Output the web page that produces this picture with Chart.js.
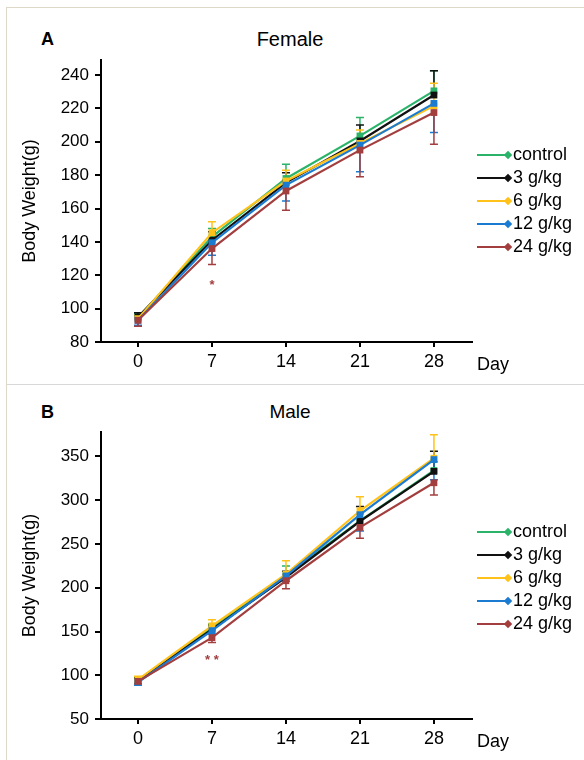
<!DOCTYPE html>
<html>
<head>
<meta charset="utf-8">
<script src="https://cdn.jsdelivr.net/npm/chart.js@4.4.1/dist/chart.umd.min.js"></script>
<style>
  body { margin: 0; background: #fff; font-family: "Liberation Sans", Arial, sans-serif; color: #000; }
  #page { position: relative; width: 584px; height: 760px; overflow: hidden; }
  .frame { position: absolute; left: 6px; top: 7px; right: -2px; bottom: -2px; border-left: 1px solid #ddd8c8; border-top: 1px solid #ddd8c8; }
  .sep { position: absolute; left: 7px; right: 0; top: 384px; border-top: 1px solid #d8d8d8; }
  .panel { position: absolute; left: 0; width: 584px; }
  .txt { position: absolute; line-height: 1; white-space: nowrap; }
  .letter { font-weight: bold; font-size: 18px; }
  .legend { position: absolute; left: 477px; font-size: 18px; }
  .legend .row { height: 23px; line-height: 23px; white-space: nowrap; }
  .legend .key { display: inline-block; position: relative; width: 36px; height: 23px; vertical-align: top; }
  .legend .key i { position: absolute; left: 0; width: 31px; top: 11px; height: 2px; }
  .legend .key b { position: absolute; left: 28px; top: 9px; width: 6px; height: 6px; transform: rotate(45deg); }
</style>
</head>
<body>
<div id="page">
  <div class="frame"></div>
  <div class="sep"></div>

  <div class="txt letter" style="left:41px; top:30px;">A</div>
  <div class="txt" style="left:290px; top:29px; font-size:20px; transform:translateX(-50%);">Female</div>
  <div class="panel" style="top:0; height:384px;"><canvas id="femaleChart"></canvas></div>
  <div class="legend" id="legendA" style="top:143px;"></div>

  <div class="txt letter" style="left:41px; top:403px;">B</div>
  <div class="txt" style="left:290px; top:402px; font-size:19px; transform:translateX(-50%);">Male</div>
  <div class="panel" style="top:384px; height:376px;"><canvas id="maleChart"></canvas></div>
  <div class="legend" id="legendB" style="top:520px;"></div>
</div>

<script>
// 天数和组别
const days = [0, 7, 14, 21, 28];
const groups = ['control', '3 g/kg', '6 g/kg', '12 g/kg', '24 g/kg'];
const colors = ['#2bb36a', '#111111', '#ffc21a', '#1b7bd0', '#a23f3e'];
const errDir = [1, 1, 1, -1, -1]; // 误差线方向: 1 向上, -1 向下

// Female 体重 (g)
const femaleControl = [94.5, 143, 178, 203.5, 230.5];
const female3 = [95, 141, 175.5, 200.5, 228];
const female6 = [94, 145.5, 176.5, 199, 221.5];
const female12 = [93, 139.5, 174, 198, 223];
const female24 = [93, 136, 170.5, 195, 217.5];
const femaleSdControl = [2.5, 5, 8.5, 11, 12];
const femaleSd3 = [2.5, 5, 6, 9.5, 14.5];
const femaleSd6 = [2, 6.5, 6.5, 8, 13.5];
const femaleSd12 = [3, 7.5, 9.5, 16, 17.5];
const femaleSd24 = [3.5, 9.5, 11.5, 16, 19];

// Male 体重 (g)
const maleControl = [94, 154.5, 214.5, 276.5, 334];
const male3 = [94, 152.5, 212, 276, 333];
const male6 = [95, 156.5, 215.5, 288, 348];
const male12 = [92, 151, 213.5, 283.5, 346.5];
const male24 = [93, 143, 208, 269, 320];
const maleSdControl = [3, 4, 10.5, 8, 10];
const maleSd3 = [3, 5, 7, 17, 23];
const maleSd6 = [4, 7, 15.5, 16, 27];
const maleSd12 = [3.5, 4, 6, 18.5, 23];
const maleSd24 = [3, 5.5, 9, 12.5, 14];

// 坐标轴刻度
const femaleTicks = [80, 100, 120, 140, 160, 180, 200, 220, 240];
const maleTicks = [50, 100, 150, 200, 250, 300, 350];

// 显著性标记
const femaleStars = [{ day: 7, value: 116, text: '*' }];
const maleStars = [{ day: 7, value: 120, text: '* *' }];

const FONT = '"Liberation Sans", Arial, sans-serif';
Chart.defaults.color = '#000';
Chart.defaults.font.family = FONT;

// 误差线
const errorBars = {
  id: 'errorBars',
  beforeDatasetsDraw(chart) {
    const ctx = chart.ctx;
    const y = chart.scales.y;
    chart.data.datasets.forEach((ds, i) => {
      const meta = chart.getDatasetMeta(i);
      ctx.save();
      ctx.strokeStyle = ds.borderColor;
      ctx.lineWidth = 1.5;
      meta.data.forEach((pt, j) => {
        const end = y.getPixelForValue(ds.data[j] + ds.dir * ds.sd[j]);
        ctx.beginPath();
        ctx.moveTo(pt.x, pt.y);
        ctx.lineTo(pt.x, end);
        ctx.moveTo(pt.x - 4, end);
        ctx.lineTo(pt.x + 4, end);
        ctx.stroke();
      });
      ctx.restore();
    });
  }
};

// 星号和 Day
const extras = {
  id: 'extras',
  afterDraw(chart, args, opts) {
    const ctx = chart.ctx;
    const { x, y } = chart.scales;
    ctx.save();
    ctx.fillStyle = '#a23f3e';
    ctx.font = 'bold 13px ' + FONT;
    ctx.textAlign = 'center';
    ctx.textBaseline = 'middle';
    opts.stars.forEach(s => {
      ctx.fillText(s.text, x.getPixelForValue(s.day), y.getPixelForValue(s.value) + 3);
    });
    ctx.fillStyle = '#000';
    ctx.font = '18px ' + FONT;
    ctx.textAlign = 'left';
    ctx.fillText('Day', chart.chartArea.right + 5, chart.chartArea.bottom + 23);
    ctx.restore();
  }
};

function buildDatasets(means, sds) {
  return means.map((m, i) => ({
    label: groups[i],
    data: m,
    sd: sds[i],
    dir: errDir[i],
    borderColor: colors[i],
    backgroundColor: colors[i],
    borderWidth: 2.2,
    pointStyle: 'rect',
    pointRadius: 4.8,
    pointBorderWidth: 0,
    tension: 0,
    order: 4 - i
  }));
}

function buildConfig(means, sds, yMin, yMax, yTicks, stars, padTop, padBottom) {
  return {
    type: 'line',
    data: { labels: days, datasets: buildDatasets(means, sds) },
    options: {
      responsive: true,
      maintainAspectRatio: false,
      animation: false,
      layout: { padding: { left: 0, right: 112, top: padTop, bottom: padBottom } },
      plugins: {
        legend: { display: false },
        tooltip: { enabled: false },
        extras: { stars: stars }
      },
      scales: {
        x: {
          type: 'linear',
          min: -3.5,
          max: 31.6,
          afterBuildTicks: s => { s.ticks = days.map(v => ({ value: v })); },
          afterFit: s => { s.height = 30; },
          grid: { drawOnChartArea: false, drawTicks: true, tickLength: 5, color: '#000', lineWidth: 2 },
          border: { display: true, color: '#000', width: 2 },
          ticks: { font: { size: 18 }, padding: 4, maxRotation: 0 }
        },
        y: {
          min: yMin,
          max: yMax,
          afterBuildTicks: s => { s.ticks = yTicks.map(v => ({ value: v })); },
          afterFit: s => { s.width = 101; },
          grid: { drawOnChartArea: false, drawTicks: true, tickLength: 6, color: '#000', lineWidth: 2 },
          border: { display: true, color: '#000', width: 2 },
          ticks: { font: { size: 17 }, padding: 6 },
          title: { display: true, text: 'Body Weight(g)', font: { size: 18 }, padding: { top: 19, bottom: 0 } }
        }
      }
    },
    plugins: [errorBars, extras]
  };
}

const femaleChart = new Chart(
  document.getElementById('femaleChart'),
  buildConfig(
    [femaleControl, female3, female6, female12, female24],
    [femaleSdControl, femaleSd3, femaleSd6, femaleSd12, femaleSd24],
    80, 249, femaleTicks, femaleStars, 60, 12)
);

const maleChart = new Chart(
  document.getElementById('maleChart'),
  buildConfig(
    [maleControl, male3, male6, male12, male24],
    [maleSdControl, maleSd3, maleSd6, maleSd12, maleSd24],
    50, 378, maleTicks, maleStars, 48, 11)
);

// 图例
function buildLegend(id) {
  const box = document.getElementById(id);
  groups.forEach((g, i) => {
    const row = document.createElement('div');
    row.className = 'row';
    row.innerHTML = `<span class="key"><i style="background:${colors[i]}"></i><b style="background:${colors[i]}"></b></span>${g}`;
    box.appendChild(row);
  });
}
buildLegend('legendA');
buildLegend('legendB');
</script>
</body>
</html>
